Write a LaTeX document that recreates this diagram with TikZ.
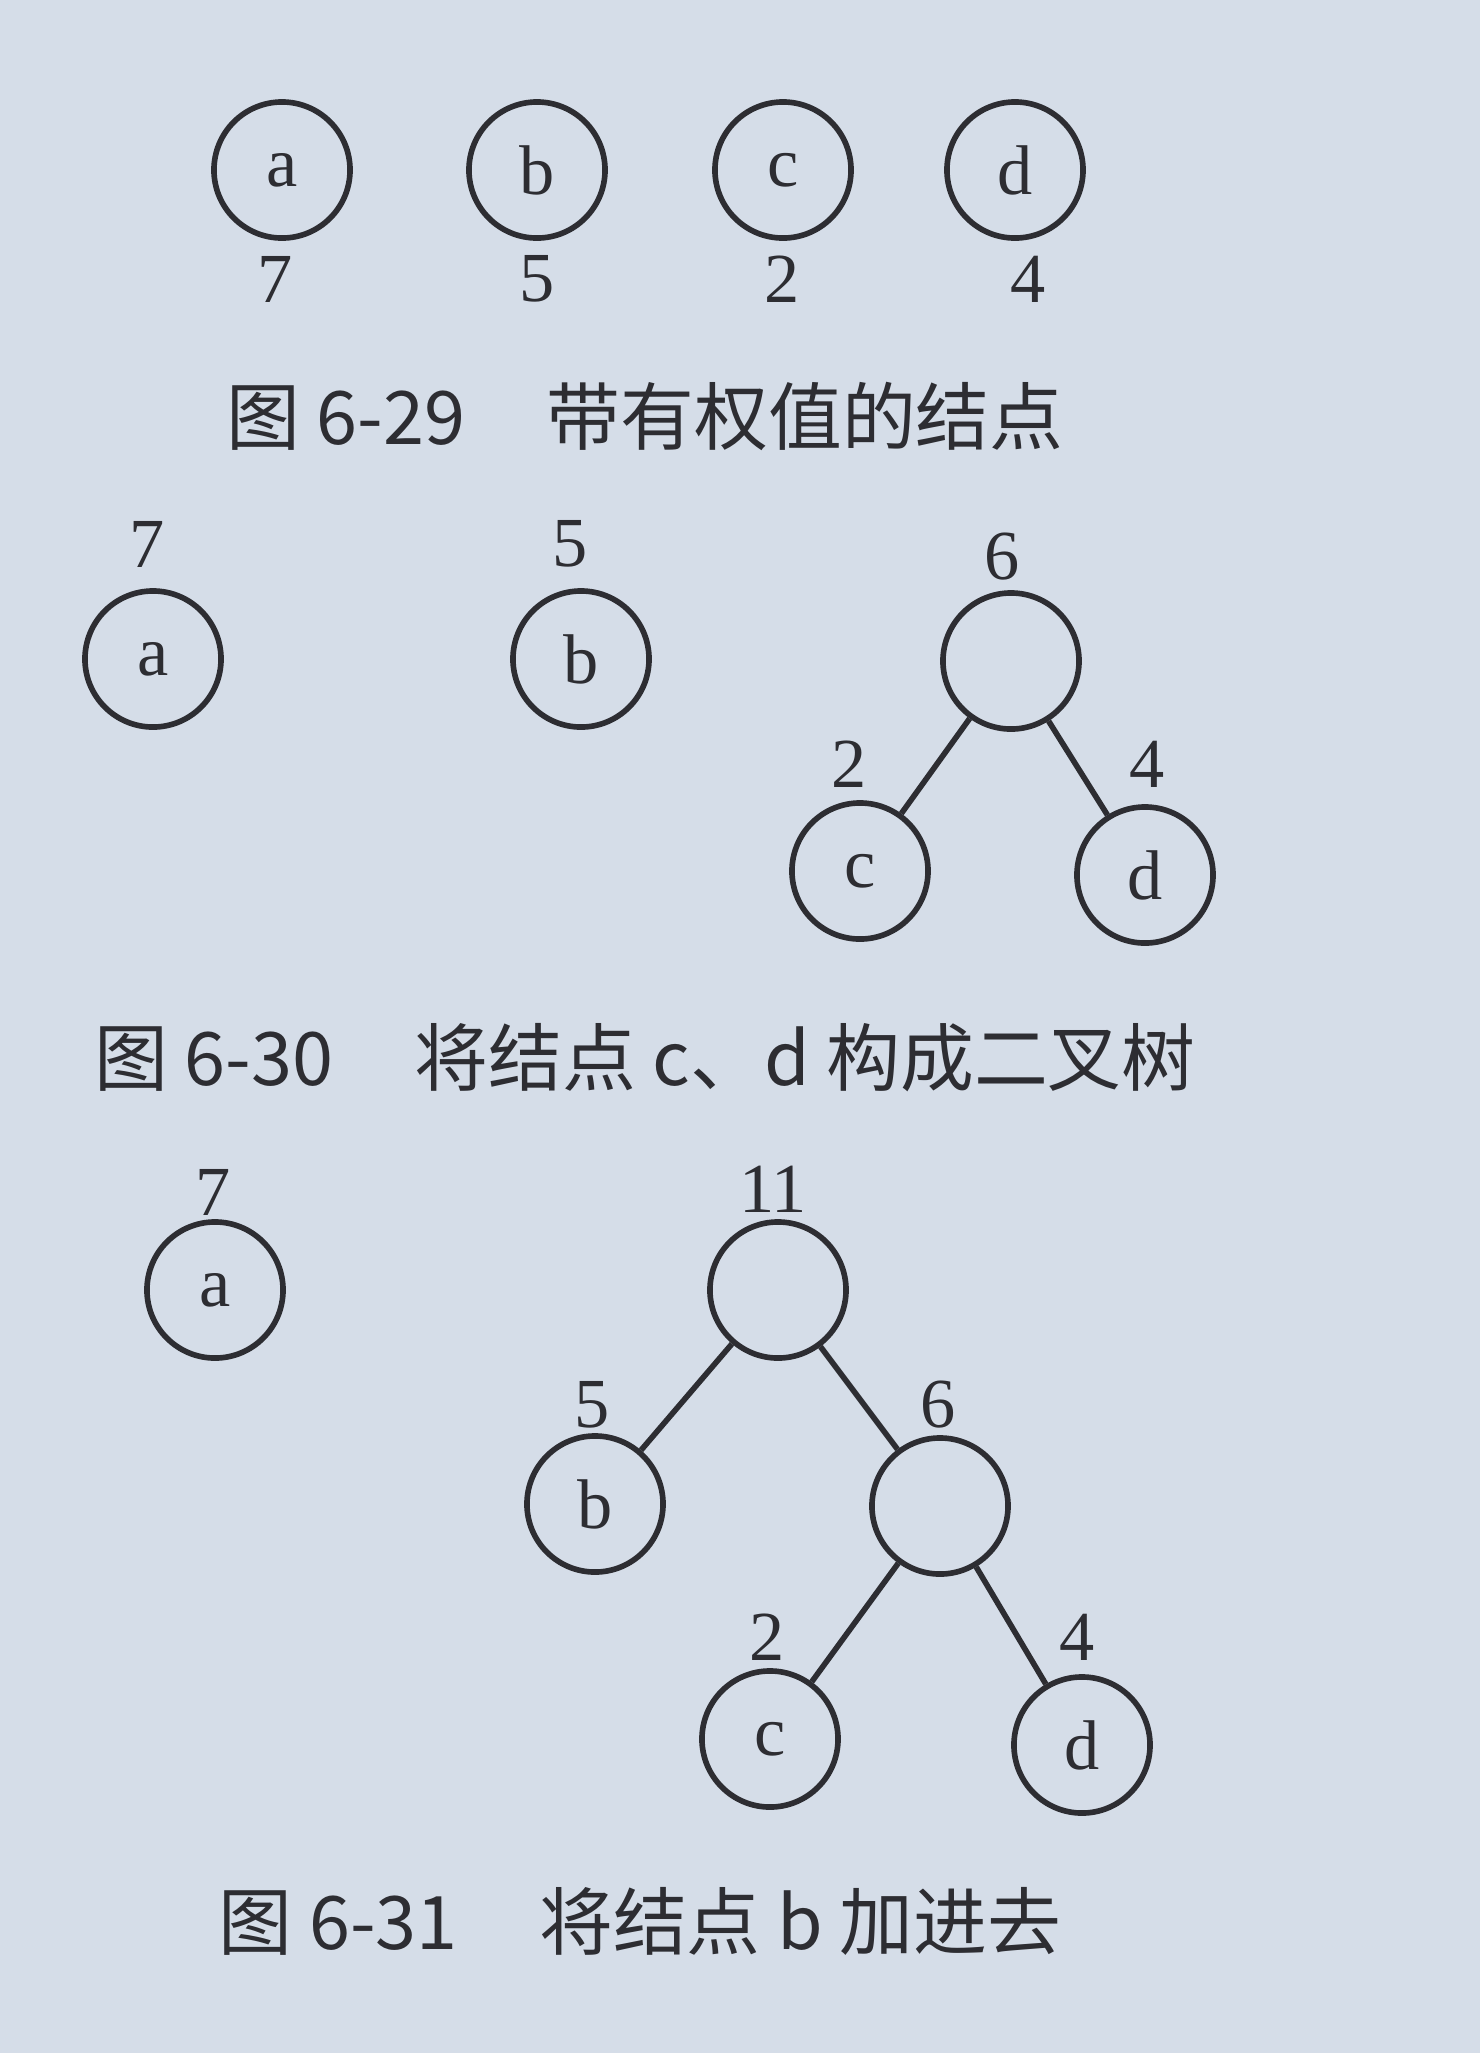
\documentclass[tikz,border=0pt]{standalone}
\usepackage{fontspec}
\setmainfont{Liberation Serif}
\newfontfamily\cjk{Noto Sans CJK SC}
\definecolor{paper}{RGB}{213,221,232}
\definecolor{ink}{RGB}{45,45,50}
\begin{document}
\begin{tikzpicture}[x=0.01cm,y=-0.01cm,
  tnode/.style={circle,draw=ink,line width=1.6pt,minimum size=1.36cm,inner sep=0pt,
    text=ink,font=\fontsize{20}{20}\selectfont},
  wlabel/.style={text=ink,font=\fontsize{20}{20}\selectfont,inner sep=0pt},
  captext/.style={text=ink,font=\cjk\fontsize{21}{21}\selectfont,inner sep=0pt},
  link/.style={draw=ink,line width=1.6pt}]
\fill[paper] (0,0) rectangle (1480,2053);
\useasboundingbox (0,0) rectangle (1480,2053);
% Fig 6-29
\node[tnode] (a1) at (282,170) {a};
\node[tnode] (b1) at (537,170) {b};
\node[tnode] (c1) at (783,170) {c};
\node[tnode] (d1) at (1015,170) {d};
\node[wlabel] (wa1) at (275,279) {7};
\node[wlabel] (wb1) at (537,279) {5};
\node[wlabel] (wc1) at (782,279) {2};
\node[wlabel] (wd1) at (1028,279) {4};
\node[captext] (cap1) at (645,416) {图 6-29\hspace{1.1em}带有权值的结点};
% Fig 6-30
\node[tnode] (a2) at (153,659) {a};
\node[wlabel] (wa2) at (147,544) {7};
\node[tnode] (b2) at (581,659) {b};
\node[wlabel] (wb2) at (570,544) {5};
\node[tnode] (r2) at (1011,661) {};
\node[wlabel] (wr2) at (1002,557) {6};
\node[tnode] (c2) at (860,871) {c};
\node[tnode] (d2) at (1145,875) {d};
\node[wlabel] (wc2) at (849,764) {2};
\node[wlabel] (wd2) at (1147,764) {4};
\draw[link] (r2) -- (c2);
\draw[link] (r2) -- (d2);
\node[captext] (cap2) at (645,1058) {图 6-30\hspace{1.1em}将结点 c、d 构成二叉树};
% Fig 6-31
\node[tnode] (a3) at (215,1290) {a};
\node[wlabel] (wa3) at (213,1192) {7};
\node[tnode] (r3) at (778,1290) {};
\node[wlabel] (wr3) at (773,1189) {11};
\node[tnode] (b3) at (595,1504) {b};
\node[wlabel] (wb3) at (592,1405) {5};
\node[tnode] (n3) at (940,1506) {};
\node[wlabel] (wn3) at (938,1405) {6};
\node[tnode] (c3) at (770,1739) {c};
\node[wlabel] (wc3) at (767,1637) {2};
\node[tnode] (d3) at (1082,1745) {d};
\node[wlabel] (wd3) at (1077,1637) {4};
\draw[link] (r3) -- (b3);
\draw[link] (r3) -- (n3);
\draw[link] (n3) -- (c3);
\draw[link] (n3) -- (d3);
\node[captext] (cap3) at (640,1921) {图 6-31\hspace{1.1em}将结点 b 加进去};
\end{tikzpicture}
\end{document}
